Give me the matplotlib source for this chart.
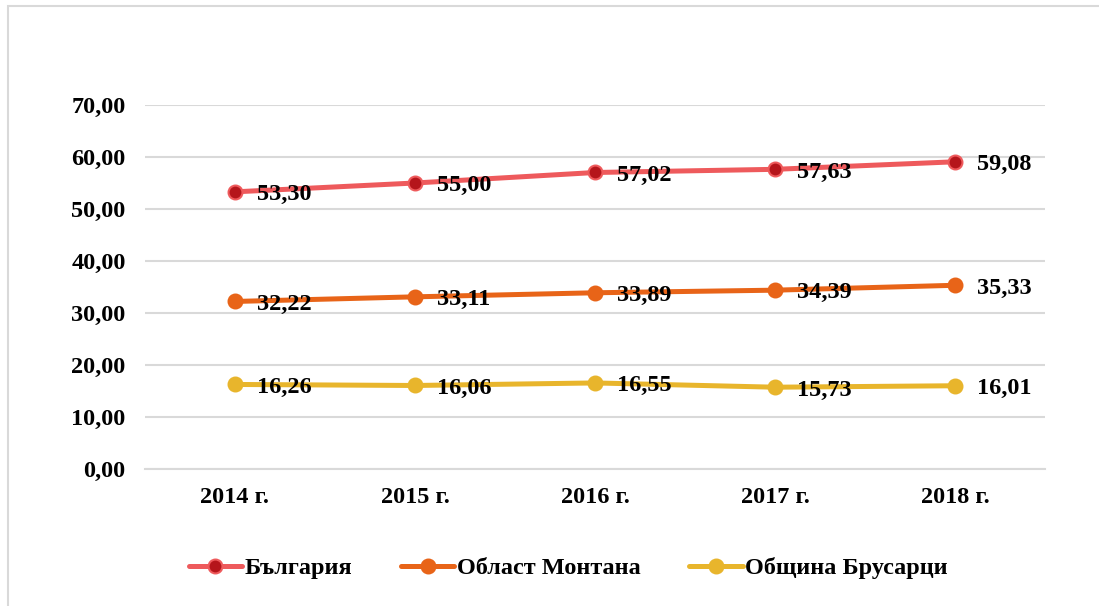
import matplotlib
matplotlib.use("Agg")
import matplotlib.pyplot as plt
from matplotlib.patches import Rectangle

# Data
years = ["2014 г.", "2015 г.", "2016 г.", "2017 г.", "2018 г."]
bulgaria = [53.30, 55.00, 57.02, 57.63, 59.08]
montana = [32.22, 33.11, 33.89, 34.39, 35.33]
brusarci = [16.26, 16.06, 16.55, 15.73, 16.01]
yticks = [0, 10, 20, 30, 40, 50, 60, 70]

plt.rcParams['font.family'] = ['Liberation Serif', 'DejaVu Serif']
plt.rcParams['font.weight'] = 'bold'
fs = 17.5

fig = plt.figure(figsize=(10.99, 6.06), dpi=100)
ax = fig.add_axes([145 / 1099, 1 - 469 / 606, 900 / 1099, 364 / 606])

# frame around chart area (only left/top visible)
fig.patches.append(Rectangle((8 / 1099, -0.1), 1.2, 1 - 6 / 606 + 0.1,
                             transform=fig.transFigure, fill=False,
                             edgecolor='#D9D9D9', linewidth=1.5))

series = [
    ("България", bulgaria, '#EE5A5C', '#B5151B'),
    ("Област Монтана", montana, '#E86418', '#E86418'),
    ("Община Брусарци", brusarci, '#E8B52C', '#E8B52C'),
]

x = list(range(len(years)))
for name, vals, lc, fc in series:
    ax.plot(x, vals, color=lc, linewidth=3.6, marker='o', markersize=10,
            markerfacecolor=fc, markeredgecolor=lc, markeredgewidth=1.5,
            label=name, solid_capstyle='round', zorder=3)
    for xi, v in zip(x, vals):
        ax.annotate(f"{v:.2f}".replace('.', ','), (xi, v), xytext=(16, -2),
                    textcoords='offset points', ha='left', va='center',
                    fontsize=fs, fontweight='bold', zorder=4)

ax.set_xlim(-0.5, len(years) - 0.5)
ax.set_ylim(0, 70)
ax.set_xticks(x)
ax.set_xticklabels(years, fontsize=fs, fontweight='bold')
ax.set_yticks(yticks)
ax.set_yticklabels([f"{t:.2f}".replace('.', ',') for t in yticks],
                   fontsize=fs, fontweight='bold')
ax.tick_params(axis='both', length=0)
ax.tick_params(axis='y', pad=14)
ax.tick_params(axis='x', pad=13)
ax.grid(axis='y', color='#D9D9D9', linewidth=1.5)
ax.set_axisbelow(True)
for s in ['top', 'right', 'left']:
    ax.spines[s].set_visible(False)
ax.spines['bottom'].set_color('#D9D9D9')
ax.spines['bottom'].set_linewidth(1.5)

fig.legend(loc='center', bbox_to_anchor=(0.517, 1 - 568 / 606), ncol=3,
           frameon=False, prop={'weight': 'bold', 'size': fs},
           handlelength=2.2, handletextpad=0.1, columnspacing=2.0)

fig.savefig("out.png", dpi=100)
